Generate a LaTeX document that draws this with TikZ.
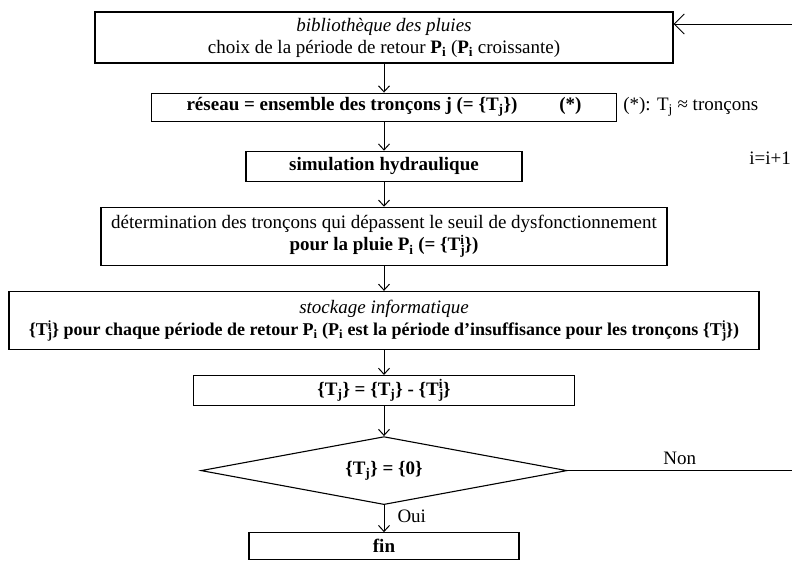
\documentclass[tikz,border=0pt]{standalone}
\usepackage{fontspec}
\setmainfont{Liberation Serif}
\usetikzlibrary{arrows.meta,positioning,shapes.geometric}
\tikzset{%
   bloc/.style={rectangle, draw=black, line width=1.1pt, align=center, inner sep=2pt},
   losange/.style={diamond, aspect=5.4, draw=black, line width=1.1pt, inner sep=0pt},
   fleche/.style={-{Straight Barb[length=6pt, width=11pt]}, line width=1pt},
}
\newcommand{\Tji}{T\rlap{\textsubscript{j}}\textsuperscript{i}}

\begin{document}
\begin{tikzpicture}[inner sep=1pt, font=\fontsize{19}{22}\selectfont]
   \useasboundingbox (0,0) rectangle (792pt,-562pt);
   \node[bloc, minimum width=578pt, minimum height=51pt] (bib) at (384pt,-37.5pt)
      {\textit{bibliothèque des pluies}\\ choix de la période de retour \textbf{P\textsubscript{i}} (\textbf{P\textsubscript{i}} croissante)};
   \node[bloc, below=29pt of bib, minimum width=465pt, minimum height=28pt] (reseau)
      {\textbf{réseau = ensemble des tronçons j (= \{T\textsubscript{j}\})\hspace{2.2em}(*)}};
   \node[bloc, below=29pt of reseau, minimum width=276pt, minimum height=30pt] (simu)
      {\textbf{simulation hydraulique}};
   \node[bloc, below=25pt of simu, minimum width=566pt, minimum height=58pt] (seuil)
      {détermination des tronçons qui dépassent le seuil de dysfonctionnement\\
       \textbf{pour la pluie P\textsubscript{i} (= \{\Tji\})}};
   \node[bloc, below=25pt of seuil, minimum width=750pt, minimum height=58pt] (stock)
      {\textit{stockage informatique}\\
       \fontsize{18}{22}\selectfont\textbf{\{\Tji\} pour chaque période de retour P\textsubscript{i} (P\textsubscript{i} est la période d'insuffisance pour les tronçons \{\Tji\})}};
   \node[bloc, below=25pt of stock, minimum width=381pt, minimum height=30pt] (maj)
      {\textbf{\{T\textsubscript{j}\} = \{T\textsubscript{j}\} - \{\Tji\}}};
   \node[losange, below=30pt of maj, minimum width=366pt, minimum height=68pt] (test)
      {\textbf{\{T\textsubscript{j}\} = \{0\}}};
   \node[bloc, below=27pt of test, minimum width=270pt, minimum height=27pt] (fin)
      {\textbf{fin}};

   % notes a droite
   \node[right=5pt of reseau] (note) {(*): T\textsubscript{j} ≈ tronçons};
   \node (incr) at (770pt,-158pt) {i=i+1};

   % chaine principale
   \draw[fleche] (bib) -- (reseau);
   \draw[fleche] (reseau) -- (simu);
   \draw[fleche] (simu) -- (seuil);
   \draw[fleche] (seuil) -- (stock);
   \draw[fleche] (stock) -- (maj);
   \draw[fleche] (maj) -- (test);
   \draw[fleche] (test) -- node[right=12pt, pos=0.4] (oui) {Oui} (fin);

   % retour
   \coordinate (non) at (792pt,-468pt);
   \coordinate (boucle) at (792pt,-24pt);
   \draw[line width=1pt] (test.east) -- node[above=4pt] (lbnon) {Non} (test.east -| non);
   \draw[-{Straight Barb[length=10pt, width=20pt]}, line width=1pt] (boucle) -- (bib.east |- boucle);
\end{tikzpicture}
\end{document}
